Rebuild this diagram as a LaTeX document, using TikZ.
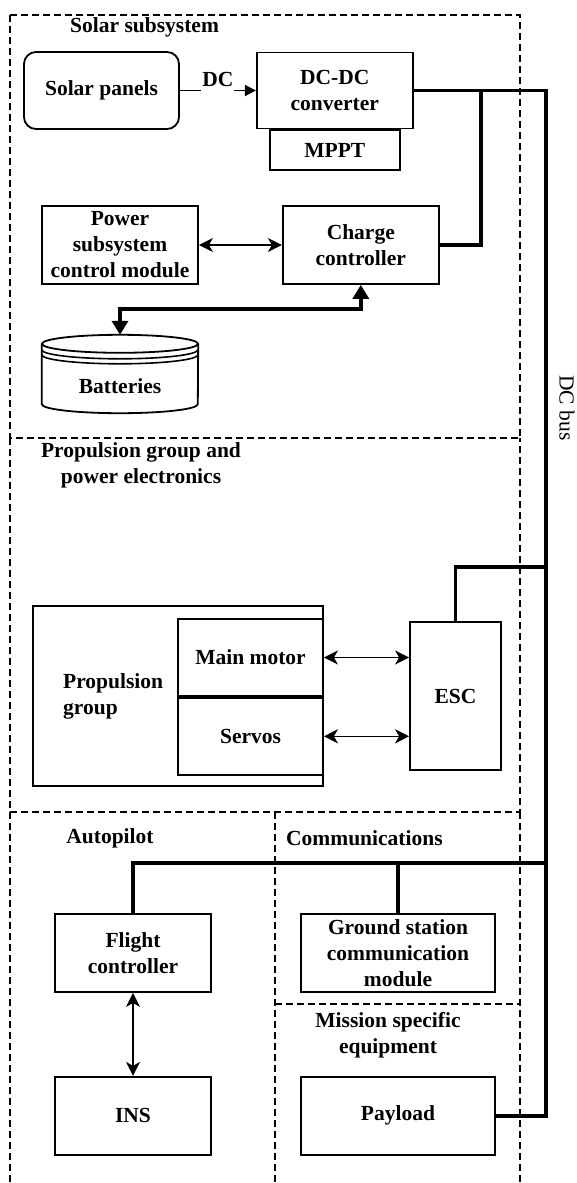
\documentclass[tikz,border=0pt]{standalone}
\usepackage{fontspec}
\setmainfont{Liberation Serif}
\usetikzlibrary{arrows.meta,positioning}

\begin{document}
\begin{tikzpicture}[
    x=1pt, y=-1pt,
    txt/.style={font=\bfseries\fontsize{21.5}{26}\selectfont, align=center, inner sep=0pt},
    block/.style={txt, draw, line width=1.8pt, minimum width=156pt, minimum height=78pt},
    group/.style={line width=1.7pt, dash pattern=on 7pt off 4pt},
    bus/.style={line width=3.8pt},
    link/.style={line width=1.6pt, {Stealth[length=14pt,width=14pt,inset=4pt]}-{Stealth[length=14pt,width=14pt,inset=4pt]}},
    power/.style={line width=3.8pt, {Triangle[length=14pt,width=16pt]}-{Triangle[length=14pt,width=16pt]}}
]
\useasboundingbox (0,0) rectangle (576,1183);

% Groups
\draw[group] (10,15) rectangle (520,438);
\draw[group] (10,438) -- (10,812) -- (520,812) -- (520,438);
\draw[group] (10,812) -- (10,1190);
\draw[group] (275,812) -- (275,1190);
\draw[group] (520,812) -- (520,1190);
\draw[group] (275,1004) -- (520,1004);

\node[txt, anchor=west] (solarlbl) at (70,27) {Solar subsystem};
\node[txt] (proplbl) at (141,465) {Propulsion group and\\power electronics};
\node[txt] (aplbl) at (110,838) {Autopilot};
\node[txt, anchor=west] (comlbl) at (286,838) {Communications};
\node[txt] (mislbl) at (388,1035) {Mission specific\\equipment};

% Solar subsystem
\node[block, rounded corners=12pt, minimum width=155pt, minimum height=77pt] (panels) at (101.5,90.5) {Solar panels};
\node[block, right=76pt of panels, minimum height=76pt] (dcdc) {DC-DC\\converter};
\node[block, below=0pt of dcdc, minimum width=130pt, minimum height=40pt] (mppt) {MPPT};
\node[block] (pscm) at (120,245) {Power\\subsystem\\control module};
\node[block, right=83pt of pscm] (charger) {Charge\\controller};
\node[minimum width=156pt, minimum height=78pt, inner sep=0pt] (batt) at (120,374) {};
\node[txt] (battlbl) at (120,386) {Batteries};

\draw[line width=1.8pt] ([yshift=-9pt]batt.north west) -- ([yshift=9pt]batt.south west)
    arc[start angle=180, end angle=360, x radius=78pt, y radius=9pt] -- ([yshift=-9pt]batt.north east);
\draw[line width=1.8pt] ([yshift=-9pt]batt.north) ellipse [x radius=78pt, y radius=9pt];
\draw[line width=1.6pt] ([yshift=-15pt]batt.north west) arc[start angle=180, end angle=360, x radius=78pt, y radius=9pt];
\draw[line width=1.6pt] ([yshift=-20pt]batt.north west) arc[start angle=180, end angle=360, x radius=78pt, y radius=9pt];

\draw[line width=1.6pt, -{Triangle[length=11pt,width=11pt]}] (panels) -- node[txt, fill=white, inner xsep=1pt, inner ysep=7pt, yshift=11pt] (dclbl) {DC} (dcdc);
\draw[link] (pscm) -- (charger);
\draw[power] (charger.south) -- ++(0,24) -| (batt.north);

% Propulsion group and power electronics
\node[draw, line width=1.8pt, minimum width=290pt, minimum height=180pt] (propgrp) at (178,696) {};
\node[block, minimum width=145pt, minimum height=77pt] (motor) at (250.5,657.5) {Main motor};
\node[block, below=0pt of motor, minimum width=145pt, minimum height=77pt] (servos) {Servos};
\node[txt, align=left, anchor=west] (proptxt) at (63,696) {Propulsion\\group};
\node[block, minimum width=91pt, minimum height=148pt] (esc) at (455.5,696) {ESC};
\draw[link] (motor.east) -- (motor.east -| esc.west);
\draw[link] (servos.east) -- (servos.east -| esc.west);

% Autopilot, communications, mission
\node[block] (fc) at (133,953) {Flight\\controller};
\node[block, below=83pt of fc] (ins) {INS};
\node[block, minimum width=194pt] (gscm) at (398,953) {Ground station\\communication\\module};
\node[block, minimum width=194pt, below=83pt of gscm] (payload) {Payload};
\draw[link] (fc) -- (ins);

% DC bus
\coordinate (busx) at (546,0);
\coordinate (jn) at (481,0);
\coordinate (escjn) at (546,567);
\coordinate (avjn) at (546,863);
\draw[bus] (dcdc.east) -- (dcdc.east -| busx) -- (payload.east -| busx) -- (payload.east);
\draw[bus] (charger.east) -| (dcdc.east -| jn);
\draw[bus] (esc.north) |- (escjn);
\draw[bus] (fc.north) |- (avjn);
\draw[bus] (gscm.north) -- (gscm.north |- avjn);
\node[font=\fontsize{21.5}{26}\selectfont, rotate=-90, inner sep=0pt] (buslbl) at (567,408) {DC bus};

\end{tikzpicture}
\end{document}
